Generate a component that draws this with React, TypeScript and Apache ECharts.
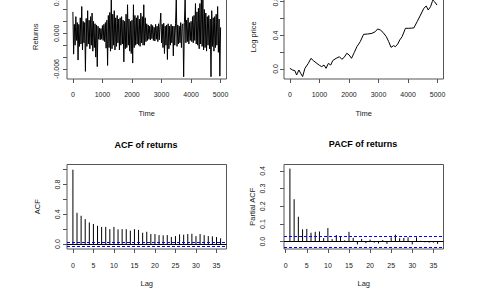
import { useEffect, useRef } from 'react';
import * as echarts from 'echarts';

// ---- data ----
const returnsStep = 25; // time units between samples
const returnsPermille = [
  3.6, -3.5, 1.5, -2.0, 2.8, -1.2, 1.8, -4.5,
  1.5, -2.2, 2.6, -1.8, 4.5, -2.8, 2.0, -1.6,
  1.8, -6.4, 2.5, -2.2, 3.8, -1.8, 2.2, -2.6,
  2.8, -2.0, 3.4, -3.0, 2.0, -2.4, 1.6, -4.0,
  1.4, -5.6, 1.2, -1.0, 0.9, -1.1, 0.8, -1.0,
  1.3, -1.2, 1.5, -1.4, 1.8, -2.5, 2.2, -5.4,
  3.0, -2.4, 3.5, -3.0, 6.2, -2.6, 3.2, -2.0,
  3.8, -2.8, 2.6, -2.2, 3.0, -1.6, 2.4, -2.8,
  2.6, -2.0, 2.8, -1.8, 2.2, -4.8, 2.0, -2.6,
  3.2, -2.4, 4.8, -2.0, 2.4, -3.0, 2.0, -3.4,
  2.2, -5.0, 4.8, -2.4, 3.0, -2.0, 2.6, -1.8,
  3.0, -2.0, 2.4, -2.2, 3.4, -1.6, 2.8, -2.0,
  4.8, -2.0, 2.6, -1.4, 1.6, -1.2, 1.4, -1.0,
  1.2, -1.1, 1.5, -0.9, 1.3, -1.2, 1.0, -1.3,
  1.5, -1.0, 1.2, -1.4, 1.6, -1.1, 1.4, 3.4,
  -1.6, 1.5, -2.4, 1.7, -3.4, 1.2, -2.0, 1.4,
  -4.4, 1.6, -2.6, 1.2, -2.0, 1.5, -1.6, 1.2,
  -3.8, 1.2, -2.0, 1.6, 5.8, -2.2, 1.4, -1.8,
  1.2, -1.6, 1.8, -2.4, 1.4, 1.6, -7.3, 1.8,
  6.0, -1.6, 2.2, -1.4, 2.6, -1.8, 1.8, -1.2,
  2.0, -1.4, 2.8, -1.6, 3.0, -1.2, 5.0, -1.8,
  3.6, -2.0, 4.2, -2.6, 5.0, -1.8, 6.4, -2.2,
  6.2, -2.8, 4.0, -2.4, 3.4, -3.0, 2.8, -2.0,
  3.0, -2.6, 2.4, -7.3, 3.8, -2.2, 2.6, -3.0,
  2.8, -2.4, 3.2, -2.0, 4.5, -3.2, 2.4, -7.2,
  1.0,
];

const logTime = [
  0, 90, 170, 227, 306, 363, 431, 510, 624, 714, 794, 884, 998, 1077, 1156, 1224,
  1304, 1383, 1451, 1565, 1678, 1757, 1837, 1927, 2007, 2086, 2177, 2268, 2381,
  2494, 2630, 2778, 2891, 2970, 3061, 3152, 3265, 3345, 3424, 3515, 3571, 3651,
  3719, 3798, 3912, 4025, 4195, 4308, 4422, 4535, 4615, 4683, 4762, 4819, 4841,
  4898, 4955, 4978,
];
const logPrice = [
  0.008, -0.012, -0.02, -0.071, -0.012, -0.05, -0.09, 0.008, 0.067, 0.127, 0.1,
  0.075, 0.044, 0.028, 0.047, 0.008, 0.067, 0.047, 0.1, 0.127, 0.146, 0.115,
  0.138, 0.187, 0.166, 0.127, 0.194, 0.265, 0.325, 0.412, 0.416, 0.424, 0.444,
  0.476, 0.464, 0.436, 0.384, 0.325, 0.258, 0.278, 0.265, 0.297, 0.345, 0.384,
  0.484, 0.484, 0.488, 0.563, 0.642, 0.722, 0.749, 0.702, 0.741, 0.8, 0.82,
  0.8, 0.773, 0.76,
];

// ACF at lags 0..36
const acfValues = [
  1.0, 0.42, 0.38, 0.335, 0.29, 0.27, 0.245, 0.23, 0.23, 0.2, 0.23, 0.197, 0.2,
  0.2, 0.18, 0.2, 0.19, 0.152, 0.165, 0.134, 0.134, 0.12, 0.117, 0.12, 0.094,
  0.107, 0.13, 0.125, 0.134, 0.138, 0.107, 0.134, 0.12, 0.107, 0.103, 0.094, 0.076,
];
// PACF at lags 1..36
const pacfValues = [
  0.413, 0.24, 0.141, 0.07, 0.072, 0.051, 0.056, 0.058, 0.021, 0.077, 0.015,
  0.038, 0.032, 0.008, 0.056, 0.022, -0.015, 0.016, -0.008, 0.012, -0.005, -0.01,
  0.01, -0.012, 0.025, 0.04, 0.02, 0.022, 0.025, -0.015, 0.025, 0.005, -0.003,
  -0.005, -0.005, -0.012,
];
const confLimit = 0.028;

const timeTicks = [0, 1000, 2000, 3000, 4000, 5000];
const lagTicks = [0, 5, 10, 15, 20, 25, 30, 35];
const returnTicks = [-0.006, -0.004, -0.002, 0, 0.002, 0.004, 0.006];
const returnLabels = [-0.006, 0, 0.006];
const priceTicks = [0, 0.2, 0.4, 0.6, 0.8];
const priceLabels = [0, 0.4, 0.8];
const acfTicks = [0, 0.2, 0.4, 0.6, 0.8, 1.0];
const acfLabels = [0, 0.4, 0.8];
const pacfTicks = [0, 0.1, 0.2, 0.3, 0.4];

// ---- styling ----
const FONT = '"Liberation Sans", Arial, sans-serif';
const FRAME = '#555';
const TEXT = '#222';

function xAxisDef(gridIndex: number, min: number, max: number, ticks: number[], name: string, margin: number, nameGap: number) {
  return {
    type: 'value', gridIndex, min, max,
    name, nameLocation: 'middle', nameGap,
    nameTextStyle: { fontSize: 7.5, fontFamily: FONT, color: TEXT },
    axisLine: { show: false, onZero: false },
    axisTick: { show: true, length: 4, lineStyle: { color: FRAME, width: 1 }, customValues: ticks },
    axisLabel: { customValues: ticks, fontSize: 7, fontFamily: FONT, color: TEXT, margin, formatter: (v: number) => String(v) },
    splitLine: { show: false },
  };
}

function yAxisDef(gridIndex: number, min: number, max: number, ticks: number[], labels: number[], digits: number, name: string, margin: number, nameGap: number) {
  return {
    type: 'value', gridIndex, min, max,
    name, nameLocation: 'middle', nameGap,
    nameTextStyle: { fontSize: 7.5, fontFamily: FONT, color: TEXT },
    axisLine: { show: false, onZero: false },
    axisTick: { show: true, length: 4, lineStyle: { color: FRAME, width: 1 }, customValues: ticks },
    axisLabel: { customValues: labels, rotate: 90, fontSize: 7, fontFamily: FONT, color: TEXT, margin, formatter: (v: number) => v.toFixed(digits) },
    splitLine: { show: false },
  };
}

function gridDef(left: number, top: number) {
  return {
    left, top, width: 159.5, height: 84.5,
    show: true, borderColor: FRAME, borderWidth: 1, backgroundColor: 'transparent',
    containLabel: false, outerBoundsMode: 'none',
  };
}

function stickItem(params: any, api: any) {
  const p0 = api.coord([api.value(0), 0]);
  const p1 = api.coord([api.value(0), api.value(1)]);
  return {
    type: 'line',
    shape: { x1: p0[0], y1: p0[1], x2: p1[0], y2: p1[1] },
    style: { stroke: '#000', lineWidth: 1 },
  };
}

function acfMarkLines() {
  return {
    silent: true, symbol: ['none', 'none'], label: { show: false },
    lineStyle: { type: [3, 2], color: '#0000ff', width: 1 },
    data: [
      { yAxis: 0, lineStyle: { type: 'solid', color: '#000', width: 1 } },
      { yAxis: confLimit, lineStyle: { type: [3, 2], color: '#0000ff', width: 1 } },
      { yAxis: -confLimit, lineStyle: { type: [3, 2], color: '#0000ff', width: 1 } },
    ],
  };
}

export default function App() {
  const ref = useRef<HTMLDivElement>(null);
  useEffect(() => {
    if (!ref.current) return;
    const chart = echarts.init(ref.current, undefined, { renderer: 'svg' });
    const option: any = {
      animation: false,
      backgroundColor: '#fff',
      grid: [gridDef(67, -5.5), gridDef(284, -5.5), gridDef(67, 164.5), gridDef(284, 164.5)],
      xAxis: [
        xAxisDef(0, -199, 5200, timeTicks, 'Time', 12, 30.5),
        xAxisDef(1, -199, 5200, timeTicks, 'Time', 12, 30.5),
        xAxisDef(2, -1.44, 37.44, lagTicks, 'Lag', 13, 30),
        xAxisDef(3, -0.4, 37.4, lagTicks, 'Lag', 13, 30),
      ],
      yAxis: [
        yAxisDef(0, -0.00768, 0.00652, returnTicks, returnLabels, 3, 'Returns', 7, 27.5),
        yAxisDef(1, -0.119, 0.886, priceTicks, priceLabels, 1, 'Log price', 5, 27),
        yAxisDef(2, -0.067, 1.07, acfTicks, acfLabels, 1, 'ACF', 6, 26),
        yAxisDef(3, -0.041, 0.436, pacfTicks, pacfTicks, 1, 'Partial ACF', 18, 27.5),
      ],
      series: [
        {
          type: 'line', xAxisIndex: 0, yAxisIndex: 0, symbol: 'none', silent: true,
          lineStyle: { color: '#000', width: 1 },
          data: returnsPermille.map((v, i) => [i * returnsStep, v / 1000]),
        },
        {
          type: 'line', xAxisIndex: 1, yAxisIndex: 1, symbol: 'none', silent: true,
          lineStyle: { color: '#000', width: 1 },
          data: logTime.map((t, i) => [t, logPrice[i]]),
        },
        {
          type: 'custom', xAxisIndex: 2, yAxisIndex: 2, silent: true,
          renderItem: stickItem,
          data: acfValues.map((v, i) => [i, v]),
          markLine: acfMarkLines(),
        },
        {
          type: 'custom', xAxisIndex: 3, yAxisIndex: 3, silent: true,
          renderItem: stickItem,
          data: pacfValues.map((v, i) => [i + 1, v]),
          markLine: acfMarkLines(),
        },
      ],
      graphic: [
        { type: 'text', x: 146, y: 145, style: { text: 'ACF of returns', font: `bold 9px ${FONT}`, fill: '#000', align: 'center', verticalAlign: 'middle' } },
        { type: 'text', x: 363, y: 144, style: { text: 'PACF of returns', font: `bold 9px ${FONT}`, fill: '#000', align: 'center', verticalAlign: 'middle' } },
      ],
    };
    chart.setOption(option);
    return () => chart.dispose();
  }, []);
  return <div ref={ref} style={{ position: 'fixed', left: 0, top: 0, width: 492, height: 291, background: '#fff' }} />;
}
